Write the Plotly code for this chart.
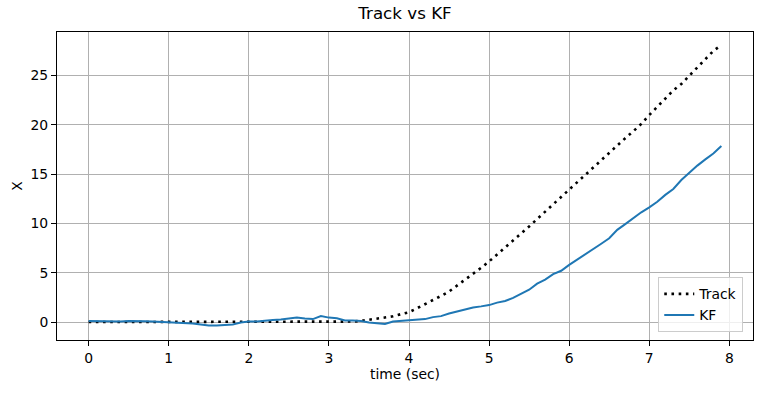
import plotly.graph_objects as go

time_sec = [round(i * 0.1, 1) for i in range(80)]

track_x = [
    0.0, 0.0, 0.0, 0.0, 0.0, 0.0, 0.0, 0.0, 0.0, 0.0,
    0.0, 0.0, 0.0, 0.0, 0.0, 0.0, 0.0, 0.0, 0.0, 0.0,
    0.0, 0.0, 0.0, 0.0, 0.0, 0.0, 0.0, 0.0, 0.0, 0.0,
    0.0, 0.0, 0.02, 0.05, 0.12, 0.22, 0.33, 0.45, 0.58, 0.8,
    1.0, 1.4, 1.8, 2.25, 2.65, 3.1, 3.7, 4.3, 4.85, 5.5,
    6.15, 6.85, 7.55, 8.25, 8.95, 9.7, 10.45, 11.2, 11.95, 12.75,
    13.5, 14.25, 14.99, 15.7, 16.5, 17.2, 17.95, 18.65, 19.35, 20.1,
    21.0, 21.85, 22.7, 23.5, 24.15, 25.0, 25.9, 26.75, 27.5, 28.1,
]

kf_x = [
    0.1, 0.08, 0.05, 0.0, 0.05, 0.1, 0.12, 0.08, 0.05, 0.02,
    0.0, -0.05, -0.1, -0.15, -0.25, -0.35, -0.35, -0.3, -0.25, -0.05,
    0.05, 0.05, 0.15, 0.22, 0.25, 0.35, 0.45, 0.35, 0.3, 0.6,
    0.45, 0.38, 0.15, 0.15, 0.1, -0.05, -0.1, -0.2, 0.05, 0.12,
    0.17, 0.22, 0.3, 0.5, 0.6, 0.86, 1.07, 1.34, 1.48, 1.59,
    1.72, 1.97, 2.14, 2.45, 2.83, 3.28, 3.9, 4.3, 4.86, 5.2,
    5.8, 6.33, 6.9, 7.34, 7.94, 8.5, 9.35, 9.93, 10.56, 11.13,
    11.64, 12.2, 12.9, 13.5, 14.4, 15.17, 15.87, 16.5, 17.1, 17.85,
]

x_ticks = [0, 1, 2, 3, 4, 5, 6, 7, 8]
y_ticks = [0, 5, 10, 15, 20, 25]

FONT = "DejaVu Sans"

fig = go.Figure()
fig.add_trace(go.Scatter(
    x=time_sec, y=track_x, mode="lines", name="Track",
    line=dict(color="black", width=2.6, dash="2.6px,4.6px"),
))
fig.add_trace(go.Scatter(
    x=time_sec, y=kf_x, mode="lines", name="KF",
    line=dict(color="#1f77b4", width=2),
))

axis_common = dict(
    showgrid=True, gridcolor="#b0b0b0", gridwidth=0.8,
    showline=True, linecolor="black", linewidth=1, mirror=True,
    ticks="outside", ticklen=5, tickcolor="black", tickwidth=0.8,
    zeroline=False, automargin=False,
    tickfont=dict(family=FONT, size=13.9, color="black"),
)

fig.update_layout(
    width=764, height=393,
    margin=dict(l=57, r=11, t=32, b=53),
    paper_bgcolor="white", plot_bgcolor="white",
    font=dict(family=FONT, size=13.9, color="black"),
    title=dict(text="Track vs KF", x=0.5, xref="paper", xanchor="center",
               y=1 - 13 / 393, yref="container", yanchor="middle",
               font=dict(family=FONT, size=16.7, color="black")),
    xaxis=dict(range=[-0.395, 8.295], tickvals=x_ticks,
               title=dict(text="time (sec)", standoff=4,
                          font=dict(family=FONT, size=13.9)),
               **axis_common),
    yaxis=dict(range=[-1.82, 29.42], tickvals=y_ticks,
               title=dict(text="X", standoff=4,
                          font=dict(family=FONT, size=13.9)),
               **axis_common),
    legend=dict(x=0.986, y=0.025, xanchor="right", yanchor="bottom",
                bgcolor="rgba(255,255,255,0.8)", bordercolor="#cccccc",
                borderwidth=1, font=dict(family=FONT, size=13.9),
                tracegroupgap=0, itemwidth=30),
    showlegend=True,
)

fig.write_html("out.html",
               config={"displayModeBar": False},
               post_script="document.body.style.margin='0';document.body.style.overflow='hidden';")
